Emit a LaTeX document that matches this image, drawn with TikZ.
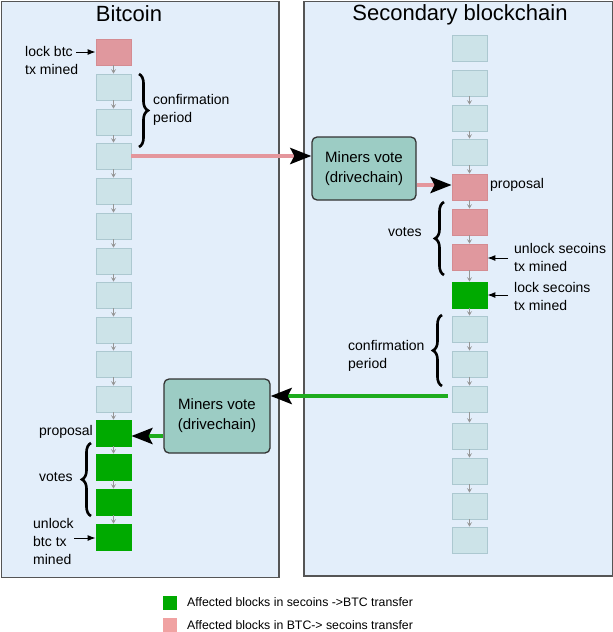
\documentclass[tikz,border=0pt]{standalone}
\usepackage{fontspec}
\setmainfont{Liberation Sans}
\usetikzlibrary{arrows.meta,decorations.pathreplacing,calc}
\definecolor{panelfill}{RGB}{227,238,250}
\definecolor{panelline}{RGB}{85,85,85}
\definecolor{blkfill}{RGB}{204,227,232}
\definecolor{blkline}{RGB}{172,200,208}
\definecolor{redfill}{RGB}{224,152,158}
\definecolor{redline}{RGB}{212,140,146}
\definecolor{grnfill}{RGB}{0,170,0}
\definecolor{boxfill}{RGB}{156,204,196}
\definecolor{pinkline}{RGB}{228,150,156}
\definecolor{grnline}{RGB}{30,172,30}
\definecolor{legpink}{RGB}{240,162,162}
\definecolor{chaingray}{RGB}{150,150,150}
\begin{document}
\begin{tikzpicture}[x=1pt,y=-1pt,
  panel/.style={draw=panelline,fill=panelfill,line width=1.3pt},
  blk/.style={draw=blkline,fill=blkfill,line width=0.8pt,minimum width=35pt,minimum height=26pt,inner sep=0pt},
  redblk/.style={blk,draw=redline,fill=redfill},
  grnblk/.style={blk,draw=grnfill,fill=grnfill},
  chainarrow/.style={draw=chaingray,line width=0.9pt,-{Stealth[length=4.5pt,width=5pt,inset=2pt]}},
  votebox/.style={draw=black!80,fill=boxfill,line width=1.3pt,rounded corners=5pt,minimum width=104pt,minimum height=63pt,align=center,font=\fontsize{15}{20}\selectfont},
  bigtip/.style={-{Stealth[length=21pt,width=16pt,inset=4pt,color=black]}},
  pinkconn/.style={draw=pinkline,line width=4pt,bigtip},
  grnconn/.style={draw=grnline,line width=4pt,bigtip},
  smallarrow/.style={draw=black,line width=1pt,-{Latex[length=8pt,width=6pt]}},
  lbl/.style={align=left,inner sep=0pt,font=\fontsize{14}{18}\selectfont},
  title/.style={inner sep=0pt,font=\fontsize{22}{26}\selectfont},
  bracestyle/.style={draw=black,line width=2.6pt,decorate,decoration={brace,amplitude=9pt}},
  legtext/.style={anchor=west,inner sep=0pt,font=\fontsize{12.3}{14}\selectfont},
  legsq/.style={minimum size=14pt,inner sep=0pt}
]
\useasboundingbox (0,0) rectangle (613,632);
\fill[white] (0,0) rectangle (613,632);

% panels
\node[panel,minimum width=277.5pt,minimum height=576pt,inner sep=0pt,anchor=north west] (pleft) at (0.7,0.7) {};
\node[panel,minimum width=308.5pt,minimum height=574.5pt,inner sep=0pt,anchor=north west] (pright) at (303.3,0.7) {};

\node[title] (tleft) at (129,14) {Bitcoin};
\node[title] (tright) at (460,15) {Secondary blockchain};

% left chain
\foreach \i/\t/\s in {1/39/redblk,2/74/blk,3/109/blk,4/143/blk,5/178/blk,6/213/blk,7/248/blk,8/282/blk,9/317/blk,10/351/blk,11/386/blk,12/420/grnblk,13/454/grnblk,14/489/grnblk,15/524/grnblk}
  \node[\s] (L\i) at (113.5,\t+13) {};
\foreach \i [evaluate=\i as \j using int(\i+1)] in {1,...,14}
  \draw[chainarrow] (L\i) -- (L\j);

% right chain
\foreach \i/\t/\s in {1/35/blk,2/70/blk,3/105/blk,4/139/blk,5/174/redblk,6/209/redblk,7/244/redblk,8/282/grnblk,9/316/blk,10/351/blk,11/386/blk,12/423/blk,13/458/blk,14/493/blk,15/527/blk}
  \node[\s] (R\i) at (469.5,\t+13) {};
\foreach \i [evaluate=\i as \j using int(\i+1)] in {2,...,14}
  \draw[chainarrow] (R\i) -- (R\j);

% vote boxes
\node[votebox] (box1) at (364,168.5) {Miners vote\\(drivechain)};
\node[votebox,minimum width=106pt,minimum height=74pt] (box2) at (217,416) {Miners vote\\(drivechain)};

% connectors
\draw[pinkconn] (L4.east) -- (L4.east -| box1.west);
\draw[pinkconn] ($(box1.east |- R5.west)+(0,-2)$) -- ($(R5.west)+(0,-2)$);
\draw[grnconn] ($(R11.west)+(-4,-3)$) -- ($(R11.west -| box2.east)+(0,-3)$);
\draw[grnconn] ($(box2.west |- L12.east)+(0,3)$) -- ($(L12.east)+(0,3)$);

% left labels
\node[lbl,anchor=west] (lockbtc) at (25,60) {lock btc\\tx mined};
\coordinate (a1) at (76,52);
\draw[smallarrow] (a1) -- (L1.west);

\draw[bracestyle] (139,74) -- (139,147);
\node[lbl,anchor=west] (conf1) at (153,110) {confirmation\\period};

\node[lbl,anchor=east] (prop1) at (93,432) {proposal};
\draw[bracestyle] (91,516) -- (91,443);
\node[lbl,anchor=west] (votes1) at (39,477) {votes};
\node[lbl,anchor=west] (unlockbtc) at (33,541) {unlock\\btc tx\\mined};
\coordinate (a2) at (74,538);
\draw[smallarrow] (a2) -- (L15.west |- a2);

% right labels
\node[lbl,anchor=west] (prop2) at (490,185) {proposal};
\draw[bracestyle] (444,275) -- (444,202);
\node[lbl,anchor=west] (votes2) at (388,232) {votes};
\node[lbl,anchor=west] (unlocksec) at (514,257.5) {unlock secoins\\tx mined};
\coordinate (a3) at (508,258);
\draw[smallarrow] (a3) -- (R7.east |- a3);
\node[lbl,anchor=west] (locksec) at (514,296) {lock secoins\\tx mined};
\coordinate (a4) at (508,295);
\draw[smallarrow] (a4) -- (R8.east |- a4);
\draw[bracestyle] (442,386) -- (442,315);
\node[lbl,anchor=west] (conf2) at (348,356) {confirmation\\period};

% legend
\node[legsq,fill=grnfill] (lg1) at (170,602.5) {};
\node[legtext] (lt1) at (187,602) {Affected blocks in secoins ->BTC transfer};
\node[legsq,fill=legpink] (lg2) at (170,625) {};
\node[legtext] (lt2) at (187,625.5) {Affected blocks in BTC-> secoins transfer};
\end{tikzpicture}
\end{document}
